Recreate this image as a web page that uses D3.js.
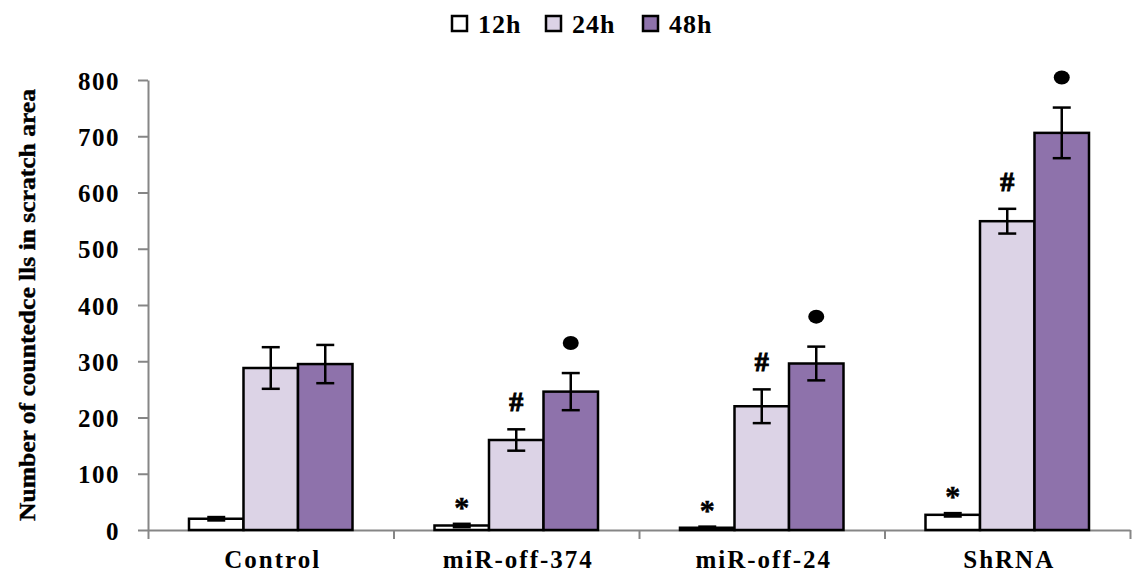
<!DOCTYPE html>
<html lang="en">
<head>
<meta charset="UTF-8">
<title>Scratch assay</title>
<script src="https://d3js.org/d3.v7.min.js"></script>
<style>
    body { margin: 0; background: #fff; }
    svg { font-family: "Liberation Serif", "Times New Roman", serif; font-weight: bold; }
    .axis path, .axis line { stroke: #868686; stroke-width: 2; fill: none; }
    .axis text { fill: #000; font-family: "Liberation Serif", "Times New Roman", serif; font-size: 25px; letter-spacing: 1.5px; }
</style>
</head>
<body>
<div id="chart"></div>
<script>
    // data
    var categories = ["Control", "miR-off-374", "miR-off-24", "ShRNA"];
    var series = ["12h", "24h", "48h"];
    var colors = ["#ffffff", "#dcd3e6", "#8e72ab"];
    var values = [
        [20, 288, 295],
        [8, 160, 246],
        [4, 220, 296],
        [27, 549, 706]
    ];
    var errors = [
        [3, 37, 34],
        [3, 19, 33],
        [2, 30, 30],
        [3, 22, 45]
    ];
    var marks = [
        ["", "", ""],
        ["*", "#", "dot"],
        ["*", "#", "dot"],
        ["*", "#", "dot"]
    ];
    var yTicks = [0, 100, 200, 300, 400, 500, 600, 700, 800];

    var W = 1136, H = 576;
    var plotLeft = 148, plotRight = 1130, plotTop = 80, plotBottom = 530;

    var svg = d3.select("#chart").append("svg")
        .attr("width", W).attr("height", H);

    var x0 = d3.scaleBand().domain(categories).range([plotLeft, plotRight]);
    var x1 = d3.scaleBand().domain(series)
        .range([x0.bandwidth() * 0.167, x0.bandwidth() * 0.833]);
    var y = d3.scaleLinear().domain([0, 800]).range([plotBottom, plotTop]);

    // y axis
    var yAxis = svg.append("g").attr("class", "axis")
        .attr("transform", "translate(" + plotLeft + ",0)")
        .call(d3.axisLeft(y).tickValues(yTicks).tickSize(10).tickSizeOuter(0).tickPadding(18));
    yAxis.selectAll("text").attr("dy", "0.36em");

    // x axis with ticks at the category boundaries
    var xLin = d3.scaleLinear().domain([0, categories.length]).range([plotLeft, plotRight]);
    svg.append("g").attr("class", "axis")
        .attr("transform", "translate(0," + plotBottom + ")")
        .call(d3.axisBottom(xLin).tickValues(d3.range(categories.length + 1))
            .tickSize(9).tickSizeOuter(0).tickFormat(""));

    svg.append("g").selectAll("text").data(categories).enter().append("text")
        .attr("x", function(d){ return x0(d) + x0.bandwidth() / 2 + 2; })
        .attr("y", 568)
        .attr("text-anchor", "middle")
        .style("font-size", "25px")
        .style("letter-spacing", "2px")
        .text(function(d){ return d; });

    function cells(d, i){
        return series.map(function(s, j){
            return {s: s, j: j, v: values[i][j], e: errors[i][j], m: marks[i][j]};
        });
    }

    // bars
    var groups = svg.append("g").selectAll("g").data(categories).enter().append("g")
        .attr("transform", function(d){ return "translate(" + x0(d) + ",0)"; });

    groups.selectAll("rect").data(cells).enter().append("rect")
        .attr("x", function(d){ return x1(d.s); })
        .attr("y", function(d){ return y(d.v); })
        .attr("width", x1.bandwidth())
        .attr("height", function(d){ return y(0) - y(d.v); })
        .attr("fill", function(d){ return colors[d.j]; })
        .attr("stroke", "#000")
        .attr("stroke-width", 2.5);

    // error bars
    var eb = groups.selectAll("g.err").data(cells).enter().append("g").attr("class", "err")
        .attr("stroke", "#000").attr("stroke-width", 2.5);
    var cap = 9;
    function cx(d){ return x1(d.s) + x1.bandwidth() / 2; }
    eb.append("line")
        .attr("x1", cx).attr("x2", cx)
        .attr("y1", function(d){ return y(d.v - d.e); })
        .attr("y2", function(d){ return y(d.v + d.e); });
    eb.append("line")
        .attr("x1", function(d){ return cx(d) - cap; })
        .attr("x2", function(d){ return cx(d) + cap; })
        .attr("y1", function(d){ return y(d.v + d.e); })
        .attr("y2", function(d){ return y(d.v + d.e); });
    eb.append("line")
        .attr("x1", function(d){ return cx(d) - cap; })
        .attr("x2", function(d){ return cx(d) + cap; })
        .attr("y1", function(d){ return y(d.v - d.e); })
        .attr("y2", function(d){ return y(d.v - d.e); });

    // significance marks
    eb.filter(function(d){ return d.m === "*" || d.m === "#"; })
        .append("text")
        .attr("x", cx)
        .attr("y", function(d){ return y(d.v + d.e) - 28; })
        .attr("dy", function(d){ return d.m === "*" ? "0.7em" : "0.36em"; })
        .attr("text-anchor", "middle")
        .attr("stroke-width", function(d){ return d.m === "#" ? 1 : 0.5; })
        .style("font-size", function(d){ return d.m === "*" ? "30px" : "28px"; })
        .text(function(d){ return d.m; });
    eb.filter(function(d){ return d.m === "dot"; })
        .append("ellipse")
        .attr("stroke", "none")
        .attr("fill", "#000")
        .attr("cx", cx)
        .attr("cy", function(d){ return y(d.v + d.e) - 30; })
        .attr("rx", 8).attr("ry", 7);

    // y axis title
    svg.append("text")
        .attr("transform", "translate(35,305) rotate(-90)")
        .attr("text-anchor", "middle")
        .attr("textLength", 432)
        .attr("lengthAdjust", "spacingAndGlyphs")
        .attr("stroke", "#000").attr("stroke-width", 0.4)
        .style("font-size", "24px")
        .text("Number of countedce lls in scratch area");

    // legend
    var legX = [452, 546, 643];
    var leg = svg.append("g").selectAll("g").data(series).enter().append("g")
        .attr("transform", function(d, i){ return "translate(" + legX[i] + ",16)"; });
    leg.append("rect")
        .attr("width", 15).attr("height", 15)
        .attr("fill", function(d, i){ return colors[i]; })
        .attr("stroke", "#000").attr("stroke-width", 2.5);
    leg.append("text")
        .attr("x", 26).attr("y", 17)
        .style("font-size", "26px")
        .style("letter-spacing", "1px")
        .text(function(d){ return d; });
</script>
</body>
</html>
